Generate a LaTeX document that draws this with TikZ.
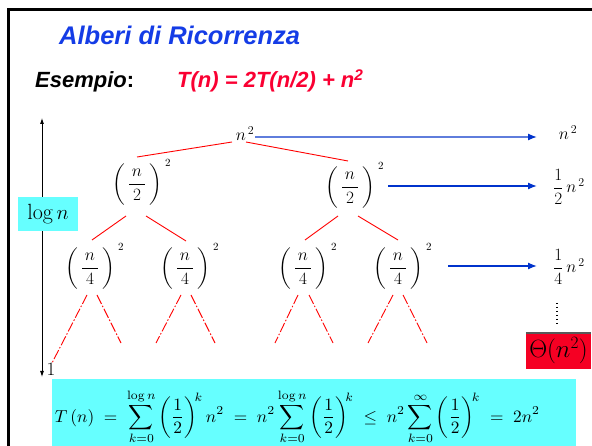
\documentclass[tikz,border=0pt]{standalone}
\usepackage{fontspec}
\usepackage{amsmath}
\usepackage{graphicx}
\newfontfamily\arialf{Liberation Sans}
\usetikzlibrary{calc,arrows.meta}
\definecolor{ttlblue}{RGB}{20,60,230}
\definecolor{ttlred}{RGB}{250,0,50}
\definecolor{treered}{RGB}{255,0,0}
\definecolor{arrblue}{RGB}{0,51,204}
\definecolor{arrlight}{RGB}{95,125,220}
\definecolor{cyanbox}{RGB}{102,255,255}
\definecolor{thetared}{RGB}{245,0,35}
\newcommand{\pfr}[1]{$\left(\vrule height 27pt depth 18pt width 0pt\,\dfrac{\,n\,}{#1}\,\right)$}
\begin{document}
\begin{tikzpicture}[x=1pt,y=-1pt,
  treeline/.style={treered,line width=0.9pt},
  leafline/.style={treered,line width=0.9pt,dash pattern=on 10pt off 2pt on 1.5pt off 2pt},
  tnode/.style={inner sep=0pt,font=\fontsize{18}{18}\selectfont},
  lnode/.style={inner sep=0pt,font=\fontsize{17.5}{17.5}\selectfont},
  sq/.style={label={[inner sep=0pt,anchor=south west,label distance=0pt,xshift=3pt,yshift=-5pt,font=\fontsize{11}{11}\selectfont]north east:$2$}},
  harr/.style={arrblue,line width=1.3pt,-{Latex[length=9pt,width=7pt]}},
  vtip/.style={line width=0.8pt,{Latex[length=6pt,width=4pt]}-{Latex[length=6pt,width=4pt]}},
]
\useasboundingbox (0,0) rectangle (592,446);
% frame
\draw[line width=2.7pt] (8.7,447) -- (8.7,9.5) -- (593,9.5);
% title lines
\node[anchor=base west,inner sep=0pt,text=ttlblue,font=\arialf\bfseries\itshape\fontsize{25.5}{25.5}\selectfont] (title) at (59,45) {Alberi di Ricorrenza};
\node[anchor=base west,inner sep=0pt,font=\arialf\bfseries\fontsize{22}{22}\selectfont] (esempio) at (35,88) {\itshape Esempio\upshape:};
\node[anchor=base west,inner sep=0pt,text=ttlred,font=\arialf\bfseries\itshape\fontsize{22}{22}\selectfont] (rec) at (177,88) {T(n) = 2T(n/2) + n\textsuperscript{2}};
% vertical arrow and labels
\coordinate (vtop) at (42,118);
\coordinate (vbot) at (42,377);
\draw[vtip] (vtop) -- (vbot);
\node[fill=cyanbox,minimum width=60pt,minimum height=34pt,inner sep=0pt,font=\fontsize{22}{22}\selectfont] (logn) at (48,214) {$\log n$};
\node[inner sep=0pt,font=\fontsize{19}{19}\selectfont] (one) at (51,369) {1};
% tree nodes
\node[lnode] (root) at (245,134) {$n^{\,2}$};
\node[tnode,sq] (L1a) at (137,184) {\pfr{2}};
\node[tnode,sq] (L1b) at (350,187) {\pfr{2}};
\node[tnode,sq] (L2a) at (90,268) {\pfr{4}};
\node[tnode,sq] (L2b) at (185,268) {\pfr{4}};
\node[tnode,sq] (L2c) at (303,268) {\pfr{4}};
\node[tnode,sq] (L2d) at (398,268) {\pfr{4}};
% tree edges
\draw[treeline] ($(root)+(-13,8)$) -- ($(L1a)+(0,-27)$);
\draw[treeline] ($(root)+(1,8)$) -- ($(L1b)+(-2,-26)$);
\draw[treeline] ($(L1a)+(-11,32)$) -- ($(L2a)+(2,-28)$);
\draw[treeline] ($(L1a)+(9,32)$) -- ($(L2b)+(1,-27)$);
\draw[treeline] ($(L1b)+(-12,29)$) -- ($(L2c)+(2,-28)$);
\draw[treeline] ($(L1b)+(8,29)$) -- ($(L2d)+(0,-28)$);
% leaf edges
\draw[leafline] ($(L2a)+(-3,27)$) -- ($(one)+(1,-6)$);
\draw[leafline] ($(L2a)+(7,27)$) -- ($(L2a)+(31,75)$);
\draw[leafline] ($(L2b)+(-4,27)$) -- ($(L2b)+(-29,75)$);
\draw[leafline] ($(L2b)+(6,27)$) -- ($(L2b)+(30,75)$);
\draw[leafline] ($(L2c)+(-5,27)$) -- ($(L2c)+(-28,75)$);
\draw[leafline] ($(L2c)+(6,27)$) -- ($(L2c)+(30,75)$);
\draw[leafline] ($(L2d)+(-5,27)$) -- ($(L2d)+(-30,75)$);
\draw[leafline] ($(L2d)+(5,27)$) -- ($(L2d)+(29,75)$);
% right column
\node[lnode] (r0) at (568,133) {$n^{\,2}$};
\node[lnode] (r1) at (569,187) {$\dfrac{1}{2}\,n^{\,2}$};
\node[lnode] (r2) at (569,267) {$\dfrac{1}{4}\,n^{\,2}$};
\draw[harr,arrlight,-{Latex[length=9pt,width=7pt,color=arrblue]}] ($(root)+(10,3)$) -- ($(r0)+(-31,4)$);
\draw[harr] ($(L1b)+(38,-1)$) -- ($(r1)+(-32,-1)$);
\draw[harr] ($(L2d)+(50,-2)$) -- ($(r2)+(-32,-1)$);
% theta
\node[fill=thetared,minimum width=65pt,minimum height=36pt,inner sep=0pt,font=\fontsize{23}{23}\selectfont] (theta) at (558.5,351) {$\Theta(n^2)$};
\draw[line width=1.5pt,black!65] (theta.north west) -- (theta.north east);
\draw[line width=1.5pt,dash pattern=on 1.5pt off 2.5pt] ($(theta.north)+(-1.5,-30)$) -- ($(theta.north)+(-1.5,-6)$);
% formula
\fill[cyanbox] (52,379) rectangle (576,446);
\node[inner sep=0pt] (formula) at (297.5,417) {\resizebox{485pt}{!}{$\displaystyle T\,(n) \;=\; \sum_{k=0}^{\log n}\left(\frac{1}{2}\right)^{\!k} n^{2} \;=\; n^{2}\sum_{k=0}^{\log n}\left(\frac{1}{2}\right)^{\!k} \;\le\; n^{2}\sum_{k=0}^{\infty}\left(\frac{1}{2}\right)^{\!k} \;=\; 2n^{2}$}};
\end{tikzpicture}
\end{document}
